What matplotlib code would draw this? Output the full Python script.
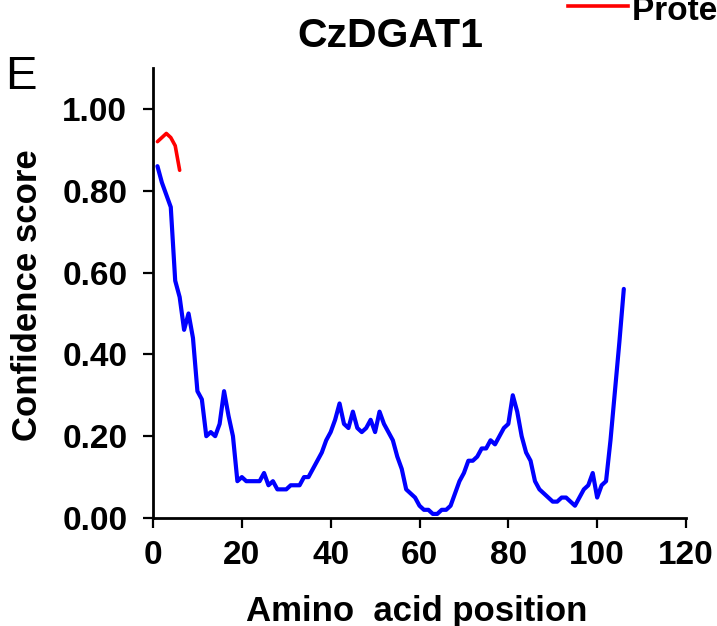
import matplotlib
matplotlib.use("Agg")
import matplotlib.pyplot as plt
from matplotlib.lines import Line2D

# per-residue confidence scores
positions = list(range(1, 107))
confidence = [
    0.86, 0.82, 0.79, 0.76, 0.58, 0.54, 0.46, 0.50, 0.44, 0.31,
    0.29, 0.20, 0.21, 0.20, 0.23, 0.31, 0.25, 0.20, 0.09, 0.10,
    0.09, 0.09, 0.09, 0.09, 0.11, 0.08, 0.09, 0.07, 0.07, 0.07,
    0.08, 0.08, 0.08, 0.10, 0.10, 0.12, 0.14, 0.16, 0.19, 0.21,
    0.24, 0.28, 0.23, 0.22, 0.26, 0.22, 0.21, 0.22, 0.24, 0.21,
    0.26, 0.23, 0.21, 0.19, 0.15, 0.12, 0.07, 0.06, 0.05, 0.03,
    0.02, 0.02, 0.01, 0.01, 0.02, 0.02, 0.03, 0.06, 0.09, 0.11,
    0.14, 0.14, 0.15, 0.17, 0.17, 0.19, 0.18, 0.20, 0.22, 0.23,
    0.30, 0.26, 0.20, 0.16, 0.14, 0.09, 0.07, 0.06, 0.05, 0.04,
    0.04, 0.05, 0.05, 0.04, 0.03, 0.05, 0.07, 0.08, 0.11, 0.05,
    0.08, 0.09, 0.19, 0.31, 0.43, 0.56,
]
# protein-binding segment (red)
pb_positions = [1, 2, 3, 4, 5, 6]
pb_score = [0.92, 0.93, 0.94, 0.93, 0.91, 0.85]

xticks = [0, 20, 40, 60, 80, 100, 120]
yticks = [0.0, 0.2, 0.4, 0.6, 0.8, 1.0]

lf = "Liberation Sans"
plt.rcParams["font.family"] = [lf, "DejaVu Sans"]

fig = plt.figure(figsize=(7.17, 6.26), dpi=100)
ax = fig.add_axes([153 / 717, 1 - 518 / 626, 533 / 717, 450 / 626])

ax.plot(positions, confidence, color="#0000ff", lw=3.0,
        solid_joinstyle="round", solid_capstyle="round")
ax.plot(pb_positions, pb_score, color="#ff0000", lw=2.6,
        solid_joinstyle="round", solid_capstyle="round")

ax.set_xlim(0, 120)
ax.set_ylim(0, 1.1)
ax.set_xticks(xticks)
ax.set_yticks(yticks)
ax.set_yticklabels([f"{v:.2f}" for v in yticks])
for s in ("top", "right"):
    ax.spines[s].set_visible(False)
for s in ("left", "bottom"):
    ax.spines[s].set_linewidth(2)
ax.tick_params(direction="out", length=7.5, width=1.6, labelsize=24)
ax.tick_params(axis="x", pad=8)
ax.tick_params(axis="y", pad=11)
for lab in ax.get_xticklabels() + ax.get_yticklabels():
    lab.set_fontweight("bold")

fig.text(417 / 717, 1 - 595 / 626, "Amino  acid position", ha="center", va="top",
         fontsize=25, fontweight="bold")
fig.text(11 / 717, 1 - 295 / 626, "Confidence score", rotation=90, ha="left",
         va="center", fontsize=25, fontweight="bold")
fig.text(390 / 717, 1 - 47 / 626, "CzDGAT1", ha="center", va="baseline",
         fontsize=29.5, fontweight="bold")
fig.text(5 / 717, 1 - 89 / 626, "E", ha="left", va="baseline", fontsize=34)

# legend entry, cut off at the figure edge as in the source
fig.add_artist(Line2D([568 / 717, 628 / 717], [1 - 6 / 626, 1 - 6 / 626],
                      transform=fig.transFigure, color="#ff0000", lw=2.6))
fig.text(632 / 717, 1 - 20 / 626, "Protein binding", ha="left", va="baseline",
         fontsize=24, fontweight="bold")

fig.savefig("out.png", dpi=100)
